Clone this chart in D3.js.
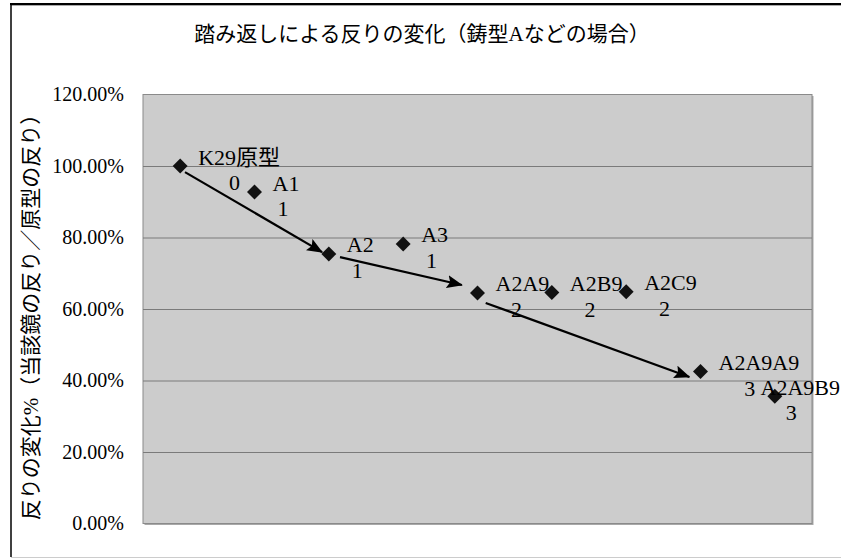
<!DOCTYPE html>
<html>
<head>
<meta charset="utf-8">
<script src="https://cdn.jsdelivr.net/npm/d3@7"></script>
<style>
  html, body { margin: 0; padding: 0; background: #fff; }
  svg { display: block; }
</style>
</head>
<body>
<script>
// Mirror ratio after each generation of recasting (mould A family)
const categories = ["K29原型", "A1", "A2", "A3", "A2A9", "A2B9", "A2C9", "A2A9A9", "A2A9B9"];
const generation = [0, 1, 1, 1, 2, 2, 2, 3, 3];
const ratio = [100.0, 92.7, 75.4, 78.2, 64.5, 64.6, 64.8, 42.5, 35.6];

const yTicks = [0, 20, 40, 60, 80, 100, 120];

// Lineage arrows, in data units: [category position, ratio %]
const arrowFrom = [[0.065, 98.3], [2.15, 74.5], [4.11, 61.7]];
const arrowTo = [[1.91, 75.9], [3.79, 66.7], [6.85, 41.0]];

const titleText = "踏み返しによる反りの変化（鋳型Aなどの場合）";
const yTitleText = "反りの変化%（当該鏡の反り／原型の反り）";

const W = 841, H = 559;
const plot = { left: 143, right: 812, top: 94.5, bottom: 523.5 };
const chartRight = 840;
const serif = "'Liberation Serif', 'Noto Sans CJK JP', serif";
const cjk = "'Liberation Serif', 'Noto Sans CJK JP', sans-serif";

const svg = d3.select("body").append("svg")
  .attr("width", W).attr("height", H);

svg.append("rect").attr("width", W).attr("height", H).attr("fill", "#fff");

// chart frame
svg.append("line").attr("x1", 10).attr("x2", W).attr("y1", 4).attr("y2", 4)
  .attr("stroke", "#000").attr("stroke-width", 2);
svg.append("line").attr("x1", 11).attr("x2", W).attr("y1", 5.5).attr("y2", 5.5)
  .attr("stroke", "#aaa").attr("stroke-width", 1);
svg.append("line").attr("x1", 11).attr("x2", 11).attr("y1", 3).attr("y2", 557)
  .attr("stroke", "#000").attr("stroke-width", 1.5);
svg.append("line").attr("x1", 11).attr("x2", W).attr("y1", 557.5).attr("y2", 557.5)
  .attr("stroke", "#ccc").attr("stroke-width", 1);

const x = d3.scaleLinear()
  .domain([-0.5, categories.length - 0.5])
  .range([plot.left, plot.right]);
const y = d3.scaleLinear()
  .domain([0, 120])
  .range([plot.bottom, plot.top]);

// plot area with a soft shadow on the lower/right edges
svg.append("rect")
  .attr("x", plot.left + 1.5).attr("y", plot.top + 1.5)
  .attr("width", plot.right - plot.left).attr("height", plot.bottom - plot.top)
  .attr("fill", "#a8a8a8");
svg.append("rect")
  .attr("x", plot.left).attr("y", plot.top)
  .attr("width", plot.right - plot.left).attr("height", plot.bottom - plot.top)
  .attr("fill", "#cccccc").attr("stroke", "#8a8a8a").attr("stroke-width", 1);

// horizontal gridlines + tick labels via a left axis
const yAxis = d3.axisLeft(y)
  .tickValues(yTicks)
  .tickSize(-(plot.right - plot.left))
  .tickPadding(19)
  .tickFormat(d => d3.format(".2f")(d) + "%");

const gAxis = svg.append("g")
  .attr("transform", `translate(${plot.left},0)`)
  .call(yAxis);
gAxis.select(".domain").remove();
gAxis.selectAll(".tick line")
  .attr("stroke", "#7a7a7a").attr("stroke-width", 1)
  .attr("display", d => (d === 0 || d === 120) ? "none" : null);
gAxis.selectAll(".tick text")
  .attr("font-family", serif).attr("font-size", 20).attr("fill", "#000");

// title
svg.append("text")
  .attr("x", 422).attr("y", 41)
  .attr("text-anchor", "middle")
  .attr("font-family", cjk).attr("font-size", 21).attr("fill", "#000")
  .text(titleText);

// vertical axis title
svg.append("text")
  .attr("transform", "translate(31,312) rotate(-90)")
  .attr("text-anchor", "middle")
  .attr("dominant-baseline", "central")
  .attr("font-family", cjk).attr("font-size", 21).attr("fill", "#000")
  .text(yTitleText);

// diamond markers
svg.append("g").selectAll("path")
  .data(ratio)
  .join("path")
  .attr("d", d3.symbol().type(d3.symbolSquare).size(112))
  .attr("transform", (d, i) => `translate(${x(i)},${y(d)}) rotate(45)`)
  .attr("fill", "#111");

// point labels: name on the first line, generation below it
const labels = svg.append("g")
  .attr("font-family", serif).attr("font-size", 22).attr("fill", "#000");

categories.forEach((name, i) => {
  const px = x(i), py = y(ratio[i]);
  const t1 = labels.append("text").attr("y", py - 1.5).text(name);
  const w = t1.node().getComputedTextLength();
  let left = px + 18;
  if (left + w > chartRight) left = chartRight - w;
  t1.attr("x", left);
  const ascii = (name.match(/[A-Za-z0-9]/g) || []).length;
  labels.append("text")
    .attr("x", left + w / 2 - 1.5 * ascii)
    .attr("y", py + 24)
    .attr("text-anchor", "middle")
    .text(generation[i]);
});

// arrows
const defs = svg.append("defs");
defs.append("marker")
  .attr("id", "head")
  .attr("markerUnits", "userSpaceOnUse")
  .attr("viewBox", "0 -7 16 14")
  .attr("refX", 15).attr("refY", 0)
  .attr("markerWidth", 16).attr("markerHeight", 14)
  .attr("orient", "auto")
  .append("path")
  .attr("d", "M0,-6.5L16,0L0,6.5L3,0Z")
  .attr("fill", "#000");

svg.append("g").selectAll("line")
  .data(arrowFrom.map((f, i) => [f, arrowTo[i]]))
  .join("line")
  .attr("x1", d => x(d[0][0])).attr("y1", d => y(d[0][1]))
  .attr("x2", d => x(d[1][0])).attr("y2", d => y(d[1][1]))
  .attr("stroke", "#000").attr("stroke-width", 2.2)
  .attr("marker-end", "url(#head)");
</script>
</body>
</html>
